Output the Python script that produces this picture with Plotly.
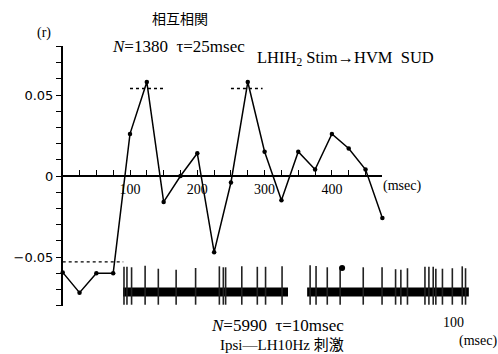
import numpy as np
import plotly.graph_objects as go

# ---------------- data ----------------
lag_ms = [0, 25, 50, 75, 100, 125, 150, 175, 200, 225,
          250, 275, 300, 325, 350, 375, 400, 425, 450, 475]
r_values = [-0.0595, -0.072, -0.060, -0.060, 0.026, 0.058, -0.016, 0.000, 0.014, -0.047,
            -0.004, 0.058, 0.015, -0.015, 0.015, 0.004, 0.026, 0.017, 0.004, -0.026]

upper_ref_level = 0.054
upper_ref_spans = [(100, 150), (250, 297)]
lower_ref_level = -0.053
lower_ref_span = (0, 90)

x_minor_ticks = list(range(0, 476, 25))
x_tick_values = [100, 200, 300, 400]
x_tick_labels = ["100", "200", "300", "400"]
y_minor_ticks = [round(v, 2) for v in np.arange(-0.08, 0.0801, 0.01)]
y_tick_values = [-0.05, 0.0, 0.05]
y_tick_labels = ["−0.05", "0", "0.05"]

# spike trace (lower inset), time in msec
trace_segments = [(0.0, 50.0), (55.8, 104.8)]
spike_times = [0.3, 1.2, 2.6, 6.7, 10.7, 16.1, 22.0, 29.2, 30.4, 31.1, 36.0, 40.7,
               43.2, 48.2, 56.7, 58.5, 61.9, 65.8, 72.8, 78.5, 82.6, 84.2, 86.2,
               91.5, 92.7, 94.0, 94.8, 96.8, 99.8, 102.8, 103.8]
spike_top = [0.80, 0.80, 0.78, 0.84, 0.72, 0.68, 0.75, 0.82, 0.78, 0.78, 0.82, 0.80,
             0.80, 0.82, 0.86, 0.83, 0.78, 0.80, 0.78, 0.78, 0.70, 0.68, 0.74,
             0.80, 0.80, 0.80, 0.72, 0.72, 0.74, 0.82, 0.74]
spike_bottom = -0.78
band_level = -0.25
stim_marker = (66.4, 0.75)

# ---------------- layout geometry (pixels) ----------------
W, H = 498, 354
px_per_ms = 0.673
x0_px = 62.7
px_per_r = 1620.0
y0_px = 176.0

def fx(px):
    return px / W

def fy(py):
    return 1 - py / H

x_dom = [fx(x0_px), fx(x0_px + 475 * px_per_ms)]
y_dom = [fy(y0_px + 0.08 * px_per_r), fy(y0_px - 0.08 * px_per_r)]

# inset axis mapping
t0_px = 123.0
px_per_tms = 3.3

fig = go.Figure()

# reference dotted lines
for a, b in upper_ref_spans:
    fig.add_trace(go.Scatter(x=[a, b], y=[upper_ref_level] * 2, mode="lines",
                             line=dict(color="black", width=1.3, dash="dot"),
                             hoverinfo="skip", showlegend=False))
fig.add_trace(go.Scatter(x=list(lower_ref_span), y=[lower_ref_level] * 2, mode="lines",
                         line=dict(color="black", width=1.3, dash="dot"),
                         hoverinfo="skip", showlegend=False))

# correlation curve
fig.add_trace(go.Scatter(x=lag_ms, y=r_values, mode="lines+markers",
                         line=dict(color="black", width=1.5),
                         marker=dict(color="black", size=4.5),
                         cliponaxis=False, showlegend=False))

# spike trace band
for a, b in trace_segments:
    fig.add_trace(go.Scatter(x=[a, b], y=[band_level, band_level], mode="lines",
                             line=dict(color="black", width=9),
                             xaxis="x2", yaxis="y2", showlegend=False, hoverinfo="skip"))
sx, sy = [], []
for t, top in zip(spike_times, spike_top):
    sx += [t, t, None]
    sy += [top, spike_bottom, None]
fig.add_trace(go.Scatter(x=sx, y=sy, mode="lines", line=dict(color="#222", width=1.6),
                         xaxis="x2", yaxis="y2", showlegend=False, hoverinfo="skip"))
fig.add_trace(go.Scatter(x=[stim_marker[0]], y=[stim_marker[1]], mode="markers",
                         marker=dict(color="black", size=6),
                         xaxis="x2", yaxis="y2", showlegend=False, hoverinfo="skip"))

serif = "Liberation Serif, Times New Roman, serif"
sans = "DejaVu Sans, sans-serif"
cjk = "Noto Sans CJK JP, sans-serif"
serif_cjk = "Liberation Serif, Noto Sans CJK JP, serif"

fig.update_layout(
    width=W, height=H, margin=dict(l=0, r=0, t=0, b=0),
    paper_bgcolor="white", plot_bgcolor="rgba(0,0,0,0)",
    font=dict(color="black"),
    showlegend=False,
    xaxis=dict(domain=x_dom, range=[0, 475], anchor="free",
               position=(y_dom[0] + y_dom[1]) / 2,
               showline=True, linecolor="black", linewidth=1.5,
               ticks="inside", ticklen=5, tickwidth=1.2, tickcolor="black",
               tickvals=x_tick_values, ticktext=x_tick_labels,
               minor=dict(tickvals=x_minor_ticks, ticks="inside", ticklen=5,
                          tickwidth=1.2, tickcolor="black", showgrid=False),
               tickfont=dict(family=serif, size=14, color="black"),
               showgrid=False, zeroline=False),
    yaxis=dict(domain=y_dom, range=[-0.08, 0.08], anchor="x",
               showline=True, linecolor="black", linewidth=1.5,
               ticks="outside", ticklen=5, tickwidth=1.2, tickcolor="black",
               tickvals=y_tick_values, ticktext=y_tick_labels,
               minor=dict(tickvals=y_minor_ticks, ticks="outside", ticklen=5,
                          tickwidth=1.2, tickcolor="black", showgrid=False),
               tickfont=dict(family=sans, size=13, color="black"),
               showgrid=False, zeroline=False),
    xaxis2=dict(domain=[0, 1], range=[-t0_px / px_per_tms, (W - t0_px) / px_per_tms],
                anchor="y2", visible=False),
    yaxis2=dict(domain=[fy(310), fy(262)], range=[-1, 1], anchor="x2", visible=False),
)

annotations = [
    dict(text="相互相関", x=fx(180), y=fy(18), font=dict(family=cjk, size=14, color="black")),
    dict(text="(r)", x=fx(44), y=fy(33), font=dict(family=serif, size=14, color="black")),
    dict(text="<i>N</i>=1380  τ=25msec", x=fx(178), y=fy(47),
         font=dict(family=serif, size=17, color="black")),
    dict(text="LHIH<sub>2</sub> Stim→HVM  SUD", x=fx(345), y=fy(58),
         font=dict(family=serif, size=16.5, color="black")),
    dict(text="(msec)", x=fx(402), y=fy(186), font=dict(family=serif, size=14, color="black")),
    dict(text="<i>N</i>=5990  τ=10msec", x=fx(277), y=fy(325),
         font=dict(family=serif, size=17, color="black")),
    dict(text="Ipsi—LH10Hz 刺激", x=fx(282), y=fy(345),
         font=dict(family=serif_cjk, size=15, color="black")),
    dict(text="(msec)", x=fx(478), y=fy(341), font=dict(family=serif, size=14, color="black")),
]
for a in annotations:
    fig.add_annotation(xref="paper", yref="paper", showarrow=False,
                       xanchor="center", yanchor="middle", **a)
fig.add_annotation(xref="x2", yref="paper", x=100, y=fy(322), text="100", showarrow=False,
                   font=dict(family=serif, size=14, color="black"),
                   xanchor="center", yanchor="middle")

fig.write_html("out.html")
